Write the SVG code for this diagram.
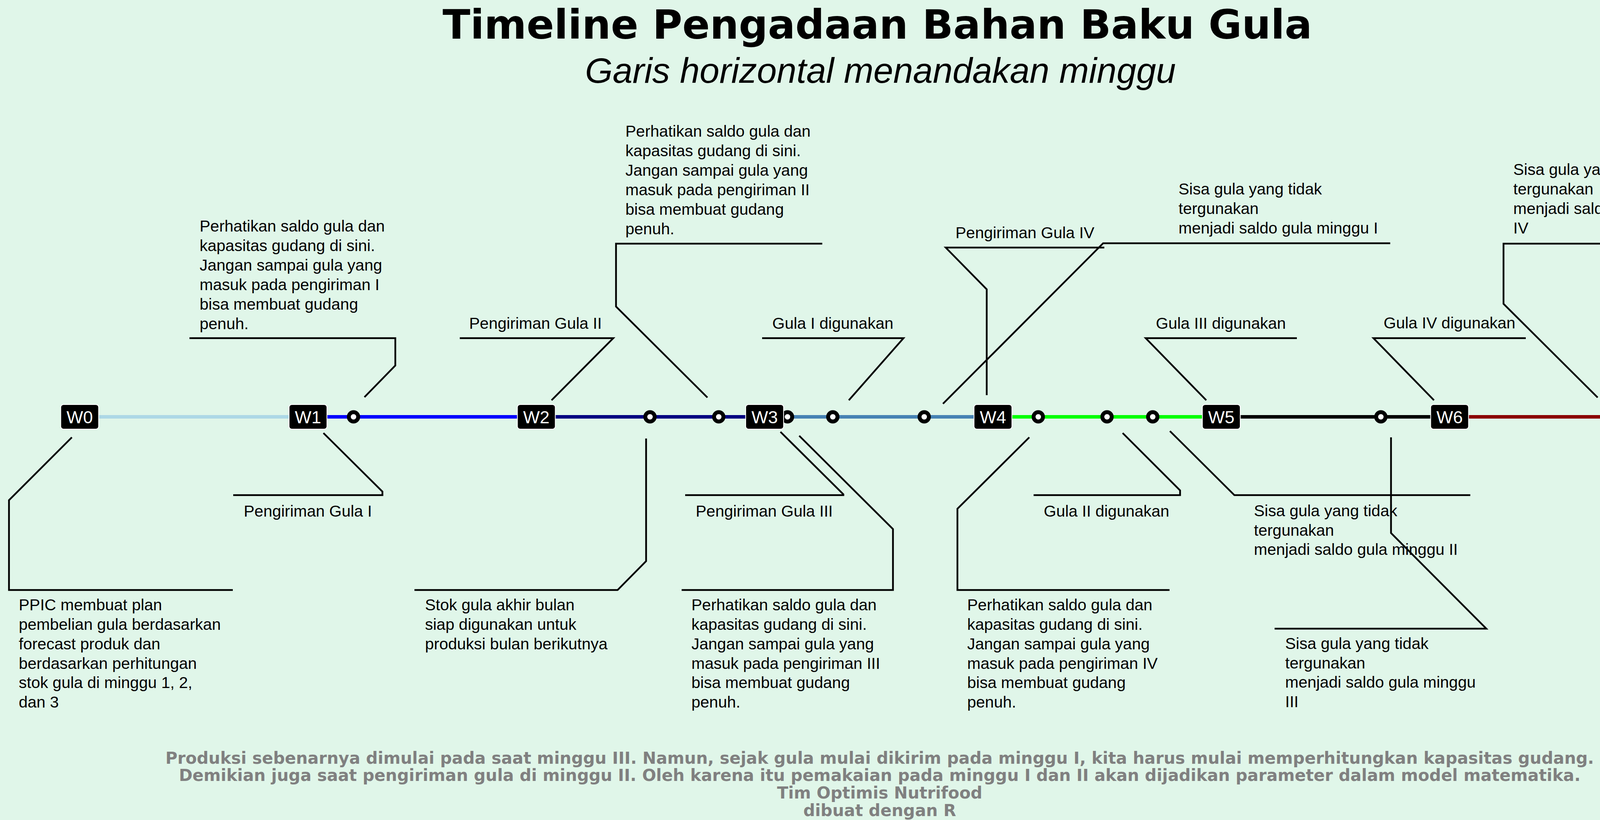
<svg xmlns="http://www.w3.org/2000/svg" width="4500" height="2100" viewBox="0 0 4500 2100">
<style>
.bg{fill:#e0f6e9}
.title{font-family:"DejaVu Sans",sans-serif;font-weight:bold;font-size:104px;fill:#000;text-anchor:middle}
.sub{font-family:"Liberation Sans",Arial,sans-serif;font-style:italic;font-size:91px;fill:#000;text-anchor:middle}
.foot{font-family:"DejaVu Sans",sans-serif;font-weight:bold;font-size:42px;fill:#808080;text-anchor:middle}
.lab{font-family:"Liberation Sans",Arial,sans-serif;font-size:41px;fill:#000}
.wk rect{fill:#000;stroke:#fff;stroke-width:2}
.wk text{font-family:"Liberation Sans",Arial,sans-serif;font-size:45px;fill:#fff;text-anchor:middle}
.seg{stroke-width:9;fill:none;stroke-linecap:butt}
.lead{fill:none;stroke:#000;stroke-width:4.5;stroke-linejoin:miter;stroke-linecap:butt}
.pt{fill:#fff;stroke:#000;stroke-width:10}
</style>
<rect class="bg" x="0" y="0" width="4500" height="2100"/>
<g id="header">
<text class="title" x="2246" y="99">Timeline Pengadaan Bahan Baku Gula</text>
<text class="sub" x="2254" y="212">Garis horizontal menandakan minggu</text>
</g>
<g id="connectors">
<line class="seg" x1="204" y1="1067.5" x2="788.5" y2="1067.5" stroke="#add8e6"/>
<line class="seg" x1="788.5" y1="1067.5" x2="1373" y2="1067.5" stroke="#0000ff"/>
<line class="seg" x1="1373" y1="1067.5" x2="1957.5" y2="1067.5" stroke="#000080"/>
<line class="seg" x1="1957.5" y1="1067.5" x2="2542" y2="1067.5" stroke="#4682b4"/>
<line class="seg" x1="2542" y1="1067.5" x2="3126.5" y2="1067.5" stroke="#00ff00"/>
<line class="seg" x1="3126.5" y1="1067.5" x2="3711" y2="1067.5" stroke="#000000"/>
<line class="seg" x1="3711" y1="1067.5" x2="4294" y2="1067.5" stroke="#8b0000"/>
<polyline class="lead" points="184,1120 23,1281 23,1511 596,1511"/>
<polyline class="lead" points="933,1017 1012,936 1012,866 485,866"/>
<polyline class="lead" points="828,1109 979,1259 979,1268 597,1268"/>
<polyline class="lead" points="1412,1025 1570,866 1177,866"/>
<polyline class="lead" points="1811,1018 1577,785 1577,624 2105,624"/>
<polyline class="lead" points="1654,1123 1654,1437 1581,1511 1061,1511"/>
<polyline class="lead" points="2173,1025 2313,866 1951,866"/>
<polyline class="lead" points="1998,1106 2159,1266 2159,1268 1754,1268"/>
<polyline class="lead" points="2046,1116 2286,1355 2286,1511 1745,1511"/>
<polyline class="lead" points="2526,1012 2526,741 2421,634 2827,634"/>
<polyline class="lead" points="2414,1034 2824,623 3559,623"/>
<polyline class="lead" points="2635,1120 2451,1303 2451,1511 2994,1511"/>
<polyline class="lead" points="2874,1109 3021,1256 3021,1268 2646,1268"/>
<polyline class="lead" points="3088,1025 2933,866 3320,866"/>
<polyline class="lead" points="2995,1104 3160,1268 3764,1268"/>
<polyline class="lead" points="3561,1120 3561,1365 3805,1610 3263,1610"/>
<polyline class="lead" points="3671,1025 3516,866 3906,866"/>
<polyline class="lead" points="4090,1018 3849,778 3849,624 4391,624"/>
</g>
<g id="points">
<circle class="pt" cx="905" cy="1067.5" r="12"/>
<circle class="pt" cx="1664" cy="1067.5" r="12"/>
<circle class="pt" cx="1840" cy="1067.5" r="12"/>
<circle class="pt" cx="2016" cy="1067.5" r="12"/>
<circle class="pt" cx="2132" cy="1067.5" r="12"/>
<circle class="pt" cx="2366" cy="1067.5" r="12"/>
<circle class="pt" cx="2658" cy="1067.5" r="12"/>
<circle class="pt" cx="2834" cy="1067.5" r="12"/>
<circle class="pt" cx="2951" cy="1067.5" r="12"/>
<circle class="pt" cx="3535" cy="1067.5" r="12"/>
<circle class="pt" cx="4119" cy="1067.5" r="12"/>
</g>
<g id="W0" class="wk"><rect x="155.5" y="1036" width="97" height="63" rx="7"/><text x="204" y="1083.5">W0</text></g>
<g id="W1" class="wk"><rect x="740" y="1036" width="97" height="63" rx="7"/><text x="788.5" y="1083.5">W1</text></g>
<g id="W2" class="wk"><rect x="1324.5" y="1036" width="97" height="63" rx="7"/><text x="1373" y="1083.5">W2</text></g>
<g id="W3" class="wk"><rect x="1909" y="1036" width="97" height="63" rx="7"/><text x="1957.5" y="1083.5">W3</text></g>
<g id="W4" class="wk"><rect x="2493.5" y="1036" width="97" height="63" rx="7"/><text x="2542" y="1083.5">W4</text></g>
<g id="W5" class="wk"><rect x="3078" y="1036" width="97" height="63" rx="7"/><text x="3126.5" y="1083.5">W5</text></g>
<g id="W6" class="wk"><rect x="3662.5" y="1036" width="97" height="63" rx="7"/><text x="3711" y="1083.5">W6</text></g>
<g id="note-ppic"><text class="lab"><tspan x="48" y="1563">PPIC membuat plan</tspan><tspan x="48" y="1613">pembelian gula berdasarkan</tspan><tspan x="48" y="1663">forecast produk dan</tspan><tspan x="48" y="1713">berdasarkan perhitungan</tspan><tspan x="48" y="1762">stok gula di minggu 1, 2,</tspan><tspan x="48" y="1812">dan 3</tspan></text></g>
<g id="note-w1-top"><text class="lab"><tspan x="511" y="593">Perhatikan saldo gula dan</tspan><tspan x="511" y="643">kapasitas gudang di sini.</tspan><tspan x="511" y="693">Jangan sampai gula yang</tspan><tspan x="511" y="743">masuk pada pengiriman I</tspan><tspan x="511" y="793">bisa membuat gudang</tspan><tspan x="511" y="843">penuh.</tspan></text></g>
<g id="note-kirim1"><text class="lab" x="624" y="1323">Pengiriman Gula I</text></g>
<g id="note-kirim2"><text class="lab" x="1201" y="842">Pengiriman Gula II</text></g>
<g id="note-w2-top"><text class="lab"><tspan x="1601" y="350">Perhatikan saldo gula dan</tspan><tspan x="1601" y="400">kapasitas gudang di sini.</tspan><tspan x="1601" y="450">Jangan sampai gula yang</tspan><tspan x="1601" y="500">masuk pada pengiriman II</tspan><tspan x="1601" y="550">bisa membuat gudang</tspan><tspan x="1601" y="600">penuh.</tspan></text></g>
<g id="note-stok"><text class="lab"><tspan x="1088" y="1563">Stok gula akhir bulan</tspan><tspan x="1088" y="1613">siap digunakan untuk</tspan><tspan x="1088" y="1663">produksi bulan berikutnya</tspan></text></g>
<g id="note-gula1"><text class="lab" x="1977" y="842">Gula I digunakan</text></g>
<g id="note-kirim3"><text class="lab" x="1781" y="1323">Pengiriman Gula III</text></g>
<g id="note-w3-bottom"><text class="lab"><tspan x="1770" y="1563">Perhatikan saldo gula dan</tspan><tspan x="1770" y="1613">kapasitas gudang di sini.</tspan><tspan x="1770" y="1663">Jangan sampai gula yang</tspan><tspan x="1770" y="1713">masuk pada pengiriman III</tspan><tspan x="1770" y="1762">bisa membuat gudang</tspan><tspan x="1770" y="1812">penuh.</tspan></text></g>
<g id="note-kirim4"><text class="lab" x="2446" y="610">Pengiriman Gula IV</text></g>
<g id="note-sisa1"><text class="lab"><tspan x="3017" y="498">Sisa gula yang tidak</tspan><tspan x="3017" y="548">tergunakan</tspan><tspan x="3017" y="598">menjadi saldo gula minggu I</tspan></text></g>
<g id="note-w4-bottom"><text class="lab"><tspan x="2476" y="1563">Perhatikan saldo gula dan</tspan><tspan x="2476" y="1613">kapasitas gudang di sini.</tspan><tspan x="2476" y="1663">Jangan sampai gula yang</tspan><tspan x="2476" y="1713">masuk pada pengiriman IV</tspan><tspan x="2476" y="1762">bisa membuat gudang</tspan><tspan x="2476" y="1812">penuh.</tspan></text></g>
<g id="note-gula2"><text class="lab" x="2672" y="1323">Gula II digunakan</text></g>
<g id="note-gula3"><text class="lab" x="2959" y="842">Gula III digunakan</text></g>
<g id="note-sisa2"><text class="lab"><tspan x="3210" y="1322">Sisa gula yang tidak</tspan><tspan x="3210" y="1372">tergunakan</tspan><tspan x="3210" y="1421">menjadi saldo gula minggu II</tspan></text></g>
<g id="note-sisa3"><text class="lab"><tspan x="3290" y="1662">Sisa gula yang tidak</tspan><tspan x="3290" y="1712">tergunakan</tspan><tspan x="3290" y="1761">menjadi saldo gula minggu</tspan><tspan x="3290" y="1811">III</tspan></text></g>
<g id="note-gula4"><text class="lab" x="3542" y="841">Gula IV digunakan</text></g>
<g id="note-sisa4"><text class="lab"><tspan x="3874" y="448">Sisa gula yang tidak</tspan><tspan x="3874" y="498">tergunakan</tspan><tspan x="3874" y="548">menjadi saldo gula minggu</tspan><tspan x="3874" y="598">IV</tspan></text></g>
<g id="footer">
<text class="foot" x="2252" y="1956">Produksi sebenarnya dimulai pada saat minggu III. Namun, sejak gula mulai dikirim pada minggu I, kita harus mulai memperhitungkan kapasitas gudang.</text>
<text class="foot" x="2252" y="2000">Demikian juga saat pengiriman gula di minggu II. Oleh karena itu pemakaian pada minggu I dan II akan dijadikan parameter dalam model matematika.</text>
<text class="foot" x="2252" y="2045">Tim Optimis Nutrifood</text>
<text class="foot" x="2252" y="2090">dibuat dengan R</text>
</g>
</svg>
